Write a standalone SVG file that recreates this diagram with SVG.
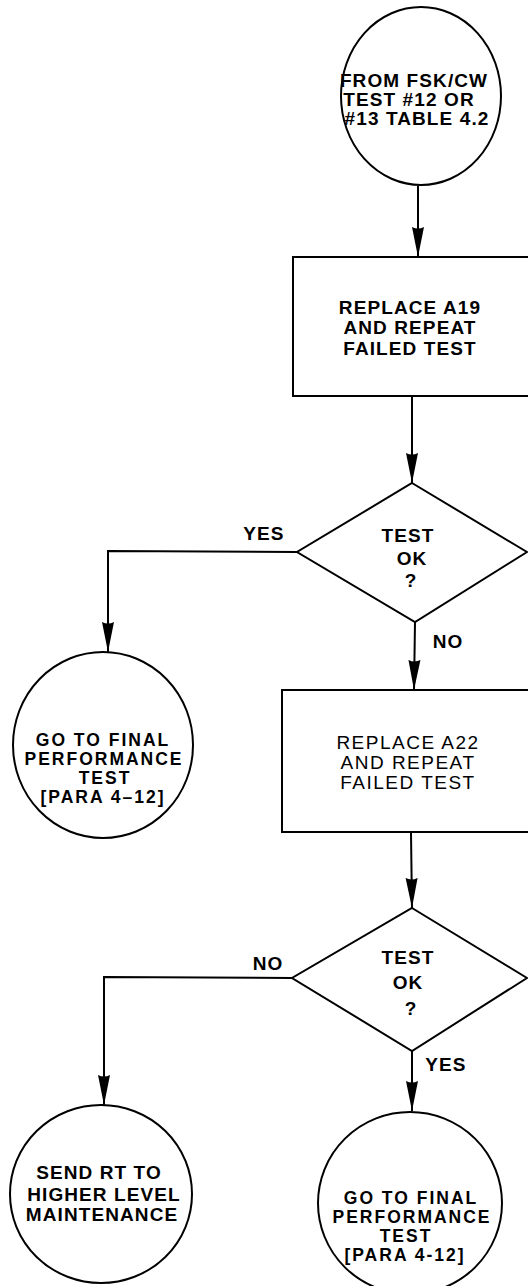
<svg xmlns="http://www.w3.org/2000/svg" width="528" height="1286" viewBox="0 0 528 1286">
<style>
.shape{fill:#fff;stroke:#000;stroke-width:2}
.conn{fill:none;stroke:#000;stroke-width:2}
text{font-family:"Liberation Sans",Arial,sans-serif;font-size:19px;font-weight:bold;letter-spacing:1.1px;text-anchor:middle;fill:#000}
.reg{font-weight:normal;letter-spacing:1.5px}
.sm{font-size:17.5px;letter-spacing:2px}
</style>
<defs>
<marker id="arr" markerUnits="userSpaceOnUse" markerWidth="32" markerHeight="14" refX="30" refY="7" orient="auto">
<path d="M0,1 L30,7 L0,13 Q3,7 0,1 z" fill="#000"/>
</marker>
</defs>
<rect width="528" height="1286" fill="#fff"/>
<g id="connectors">
<line class="conn" x1="418" y1="186" x2="418" y2="257" marker-end="url(#arr)"/>
<line class="conn" x1="412" y1="397" x2="412" y2="483" marker-end="url(#arr)"/>
<polyline class="conn" points="297,552 108,551 108,652" marker-end="url(#arr)"/>
<line class="conn" x1="415" y1="622" x2="414" y2="690" marker-end="url(#arr)"/>
<line class="conn" x1="411" y1="833" x2="412" y2="908" marker-end="url(#arr)"/>
<polyline class="conn" points="292,978 104,977 104,1105" marker-end="url(#arr)"/>
<line class="conn" x1="412" y1="1051" x2="412" y2="1111" marker-end="url(#arr)"/>
<text x="264" y="540">YES</text>
<text x="448" y="648">NO</text>
<text x="268" y="970">NO</text>
<text x="446" y="1071">YES</text>
</g>
<g id="start">
<ellipse class="shape" cx="421" cy="96" rx="80" ry="89"/>
<text x="414" y="87">FROM FSK/CW</text>
<text x="409" y="106">TEST #12 OR</text>
<text x="417" y="125">#13 TABLE 4.2</text>
</g>
<g id="replaceA19">
<rect class="shape" x="293" y="257" width="260" height="139"/>
<text x="410" y="314">REPLACE A19</text>
<text x="410" y="334">AND REPEAT</text>
<text x="410" y="355">FAILED TEST</text>
</g>
<g id="test1">
<polygon class="shape" points="412,483 527,552 415,622 297,552"/>
<text x="408" y="542">TEST</text>
<text x="412" y="565">OK</text>
<text x="411" y="587">?</text>
</g>
<g id="final1">
<ellipse class="shape" cx="103" cy="745" rx="90" ry="93"/>
<text class="sm" x="103" y="746">GO TO FINAL</text>
<text class="sm" x="104" y="765">PERFORMANCE</text>
<text class="sm" x="105" y="784">TEST</text>
<text class="sm" x="103" y="803">[PARA 4–12]</text>
</g>
<g id="replaceA22">
<rect class="shape" x="282" y="690" width="270" height="142"/>
<text class="reg" x="408" y="749">REPLACE A22</text>
<text class="reg" x="408" y="769">AND REPEAT</text>
<text class="reg" x="408" y="789">FAILED TEST</text>
</g>
<g id="test2">
<polygon class="shape" points="412,908 527,978 412,1051 292,978"/>
<text x="408" y="964">TEST</text>
<text x="408" y="989">OK</text>
<text x="411" y="1015">?</text>
</g>
<g id="sendRT">
<ellipse class="shape" cx="101" cy="1194" rx="91" ry="89"/>
<text x="99" y="1179">SEND RT TO</text>
<text x="104" y="1201">HIGHER LEVEL</text>
<text x="102" y="1221">MAINTENANCE</text>
</g>
<g id="final2">
<ellipse class="shape" cx="410" cy="1203" rx="92" ry="91"/>
<text class="sm" x="411" y="1204">GO TO FINAL</text>
<text class="sm" x="412" y="1223">PERFORMANCE</text>
<text class="sm" x="406" y="1242">TEST</text>
<text class="sm" x="405" y="1261">[PARA 4-12]</text>
</g>
</svg>
